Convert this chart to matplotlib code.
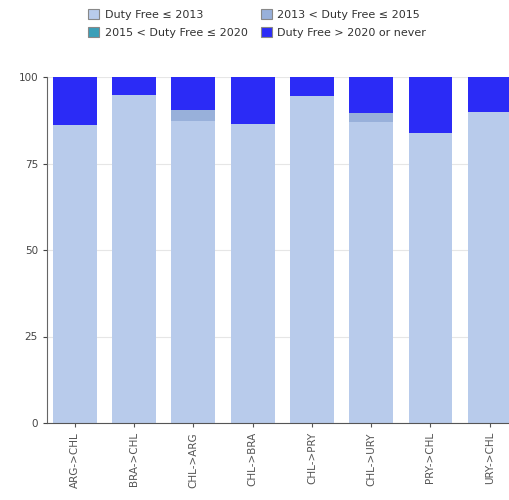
import numpy as np
import matplotlib.pyplot as plt
from matplotlib.patches import Patch

routes = ['ARG->CHL', 'BRA->CHL', 'CHL->ARG', 'CHL->BRA', 'CHL->PRY', 'CHL->URY', 'PRY->CHL', 'URY->CHL']
free_2013 = [86.1, 94.8, 87.4, 86.4, 94.6, 87.1, 83.7, 90.0]
free_2015 = [0.0, 0.0, 3.2, 0.0, 0.0, 2.4, 0.0, 0.0]
free_2020 = [0.0, 0.0, 0.0, 0.0, 0.0, 0.0, 0.0, 0.0]
free_later = [13.9, 5.2, 9.4, 13.6, 5.4, 10.5, 16.3, 10.0]

series_names = ['Duty Free \u2264 2013', '2013 < Duty Free \u2264 2015',
                '2015 < Duty Free \u2264 2020', 'Duty Free > 2020 or never']
colors = ['#b8cbeb', '#98b0da', '#3a9fb8', '#2b2bf6']

fig = plt.figure(figsize=(5.09, 5.0), dpi=100)
ax = fig.add_axes([0.0923, 0.154, 0.928, 0.692])

x = np.arange(len(routes))
bottom = np.zeros(len(routes))
for vals, col in zip([free_2013, free_2015, free_2020, free_later], colors):
    ax.bar(x, vals, width=0.74, bottom=bottom, color=col, linewidth=0, zorder=2)
    bottom += np.array(vals)

ax.set_ylim(0, 100)
ax.set_xlim(-0.47, 7.5)
ax.set_yticks([0, 25, 50, 75, 100])
ax.set_xticks(x)
ax.set_xticklabels(routes, rotation=90, fontsize=7.5, color='#444444')
ax.tick_params(axis='y', labelsize=7.5, colors='#444444', length=3)
ax.tick_params(axis='x', length=3, colors='#555555')
ax.grid(axis='y', color='#e6e6e6', linewidth=0.8, zorder=0)
for s in ['top', 'right']:
    ax.spines[s].set_visible(False)
ax.spines['left'].set_color('#666666')
ax.spines['bottom'].set_color('#555555')

# legend fills column-wise, so order handles to get row-wise reading
order = [0, 2, 1, 3]
handles = [Patch(facecolor=colors[i], edgecolor='#888888', linewidth=0.8) for i in order]
labels = [series_names[i] for i in order]
fig.legend(handles, labels, loc='upper left', bbox_to_anchor=(0.153, 1.002),
           ncol=2, frameon=False, fontsize=8, handlelength=1.0, handleheight=1.0,
           columnspacing=1.2, handletextpad=0.5, labelspacing=0.65, labelcolor='#333333')

fig.savefig('out.png', dpi=100)
